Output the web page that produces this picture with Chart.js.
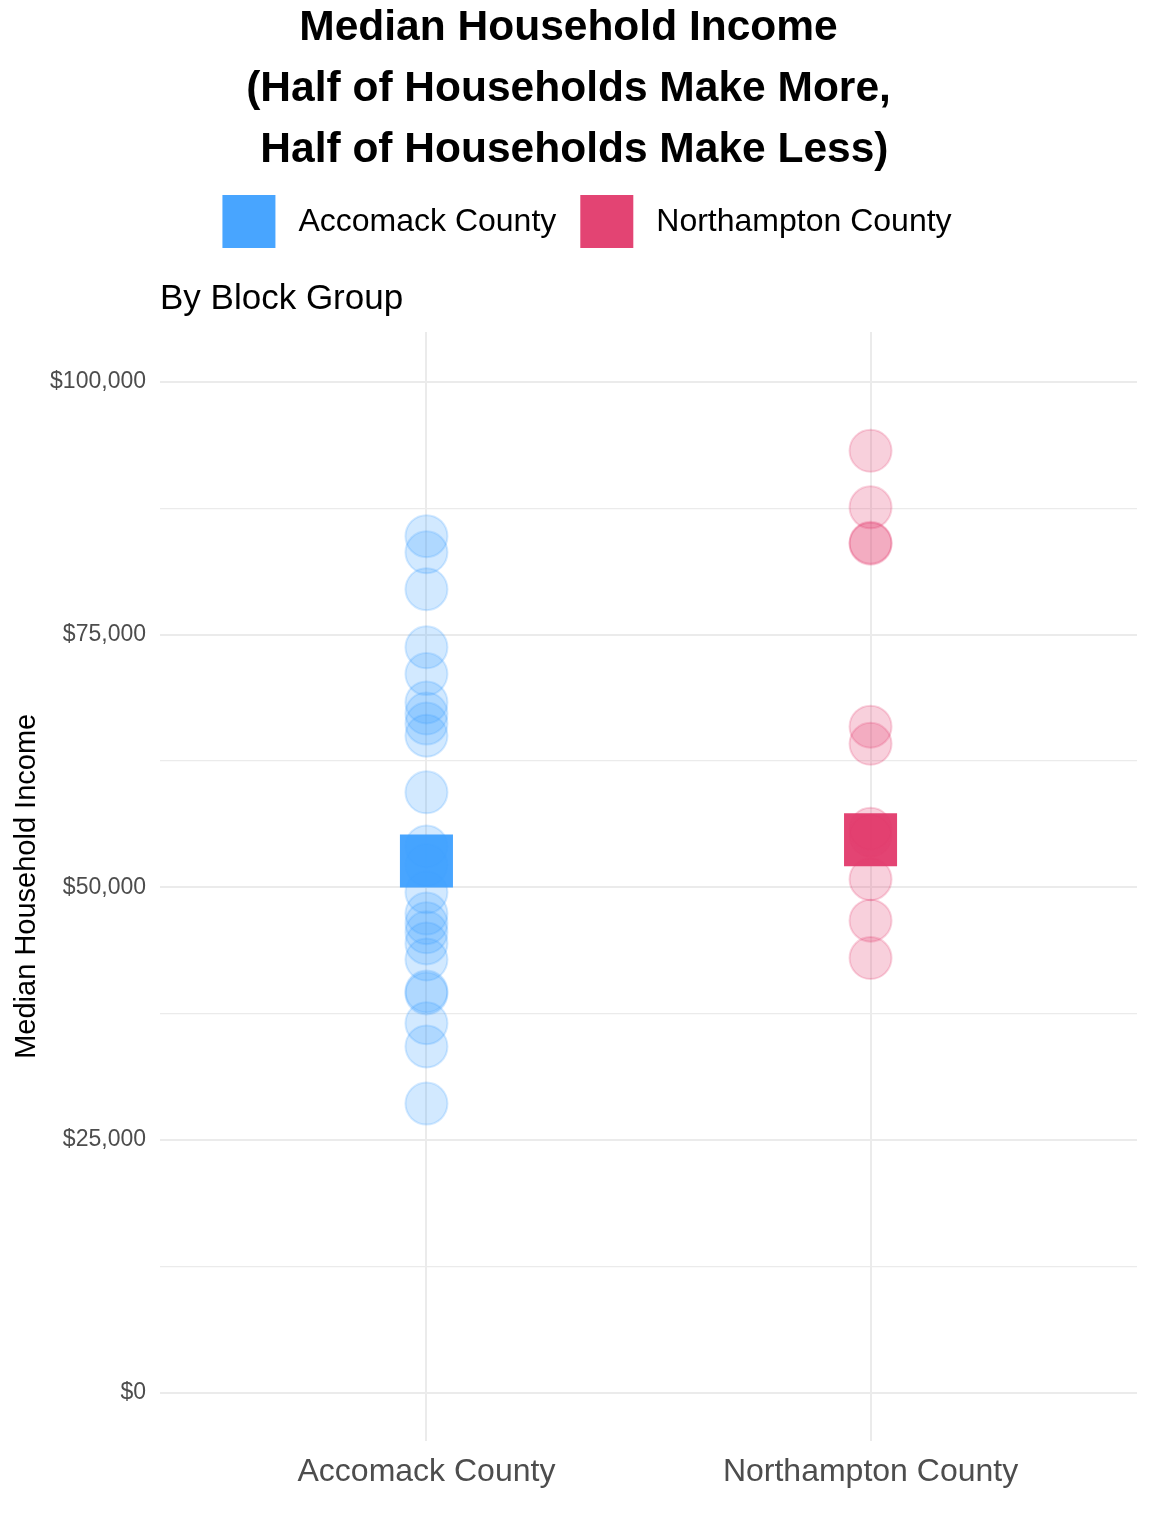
<!DOCTYPE html>
<html><head><meta charset="utf-8">
<script src="https://cdn.jsdelivr.net/npm/chart.js@4"></script>
<style>html,body{margin:0;padding:0;background:#fff}</style>
</head><body>
<canvas id="c" width="1152" height="1536"></canvas>
<script>
const categories = ['Accomack County', 'Northampton County'];
const accomackIncome = [84750, 83150, 79500, 73750, 71100, 68300, 67200, 66200, 65000, 59400,
  54050, 52200, 49500, 47400, 46450, 45550, 44450, 42850, 39700, 39500, 36550, 34250, 28600];
const northamptonIncome = [93200, 87600, 84000, 84100, 65900, 64200, 55800, 55100, 50800, 46700, 43000];
const countyMedian = [52600, 54700];
const yMajorTicks = [0, 25000, 50000, 75000, 100000];
const yTickLabels = ['$0', '$25,000', '$50,000', '$75,000', '$100,000'];
const yMinorTicks = [12500, 37500, 62500, 87500];
const titleLines = ['Median Household Income', '(Half of Households Make More,', ' Half of Households Make Less)'];

const FONT = '"Liberation Sans", Arial, Helvetica, sans-serif';
Chart.defaults.font.family = FONT;

const blue = a => `rgba(62,160,255,${a})`;
const pink = a => `rgba(226,58,108,${a})`;
const legendColors = [blue(0.95), pink(0.95)];

const TITLE_LH = 61;
// legend drawn in the space reserved below the title
const refLegend = {
  id: 'refLegend',
  afterDraw(chart) {
    const ctx = chart.ctx;
    const tb = chart.titleBlock;
    ctx.save();
    ctx.font = '32px ' + FONT;
    const box = 53, gap = 23, sep = 24;
    const items = categories.map((t, i) => ({ text: t, color: legendColors[i], w: ctx.measureText(t).width }));
    const total = items.reduce((s, it) => s + box + gap + it.w, 0) + sep * (items.length - 1);
    let x = chart.width / 2 + 11 - total / 2;
    const top = tb.top + TITLE_LH * titleLines.length + 14;
    const yc = top + box / 2;
    items.forEach(it => {
      ctx.fillStyle = it.color;
      ctx.fillRect(x, top, box, box);
      x += box + gap;
      ctx.fillStyle = '#000';
      ctx.textBaseline = 'middle';
      ctx.textAlign = 'left';
      ctx.fillText(it.text, x, yc + 1);
      x += it.w + sep;
    });
    ctx.restore();
  }
};

new Chart(document.getElementById('c'), {
  type: 'scatter',
  data: {
    datasets: [
      { label: categories[0], data: [{ x: 1, y: countyMedian[0] }], pointStyle: 'rect', pointRadius: 37.5,
        backgroundColor: blue(0.95), borderWidth: 0, order: 0 },
      { label: categories[1], data: [{ x: 2, y: countyMedian[1] }], pointStyle: 'rect', pointRadius: 37.5,
        backgroundColor: pink(0.95), borderWidth: 0, order: 1 },
      { label: categories[0] + ' block groups', data: accomackIncome.map(v => ({ x: 1, y: v })), pointRadius: 21,
        backgroundColor: blue(0.23), borderColor: blue(0.22), borderWidth: 2, order: 2 },
      { label: categories[1] + ' block groups', data: northamptonIncome.map(v => ({ x: 2, y: v })), pointRadius: 21,
        backgroundColor: pink(0.24), borderColor: pink(0.22), borderWidth: 2, order: 3 }
    ]
  },
  plugins: [refLegend],
  options: {
    responsive: false,
    animation: false,
    events: [],
    layout: { autoPadding: false, padding: { top: -2, left: 0, right: 15, bottom: 33 } },
    plugins: {
      tooltip: { enabled: false },
      legend: { display: false },
      title: { display: true, text: titleLines, color: '#000',
        font: { size: 42.5, weight: 'bold', lineHeight: TITLE_LH + 'px' }, padding: { top: 0, bottom: 77 } },
      subtitle: { display: true, text: 'By Block Group', align: 'start', fullSize: false,
        color: '#000', font: { size: 35, weight: 'normal', lineHeight: 1.2 }, padding: { top: 20, bottom: 12 } }
    },
    scales: {
      x: {
        type: 'linear', min: 0.4, max: 2.6,
        afterBuildTicks: s => { s.ticks = categories.map((c, i) => ({ value: i + 1 })); },
        afterFit: s => { s.paddingLeft = 0; s.paddingRight = 0; s.paddingTop = 0; s.paddingBottom = 0; },
        ticks: { callback: v => categories[Math.round(v) - 1] || '', font: { size: 32 }, color: '#4d4d4d',
          padding: 12, autoSkip: false, maxRotation: 0 },
        grid: { color: '#ebebeb', lineWidth: 2, drawTicks: false },
        border: { display: false }
      },
      y: {
        type: 'linear', min: -4750, max: 104950,
        afterBuildTicks: s => { s.ticks = yMajorTicks.concat(yMinorTicks).sort((a, b) => a - b).map(v => ({ value: v })); },
        afterFit: s => { s.width = 160; s.paddingTop = 0; s.paddingBottom = 0; s.paddingLeft = 0; s.paddingRight = 0; },
        ticks: { callback: v => { const i = yMajorTicks.indexOf(v); return i >= 0 ? yTickLabels[i] : ''; },
          font: { size: 23 }, color: '#4d4d4d', padding: 14, autoSkip: false },
        grid: { color: '#ebebeb', lineWidth: c => (c.tick && yMajorTicks.includes(c.tick.value)) ? 2 : 1.2, drawTicks: false },
        border: { display: false },
        title: { display: true, text: 'Median Household Income', color: '#000', font: { size: 29 },
          padding: { top: 10, bottom: 0 } }
      }
    }
  }
});
</script>
</body></html>
